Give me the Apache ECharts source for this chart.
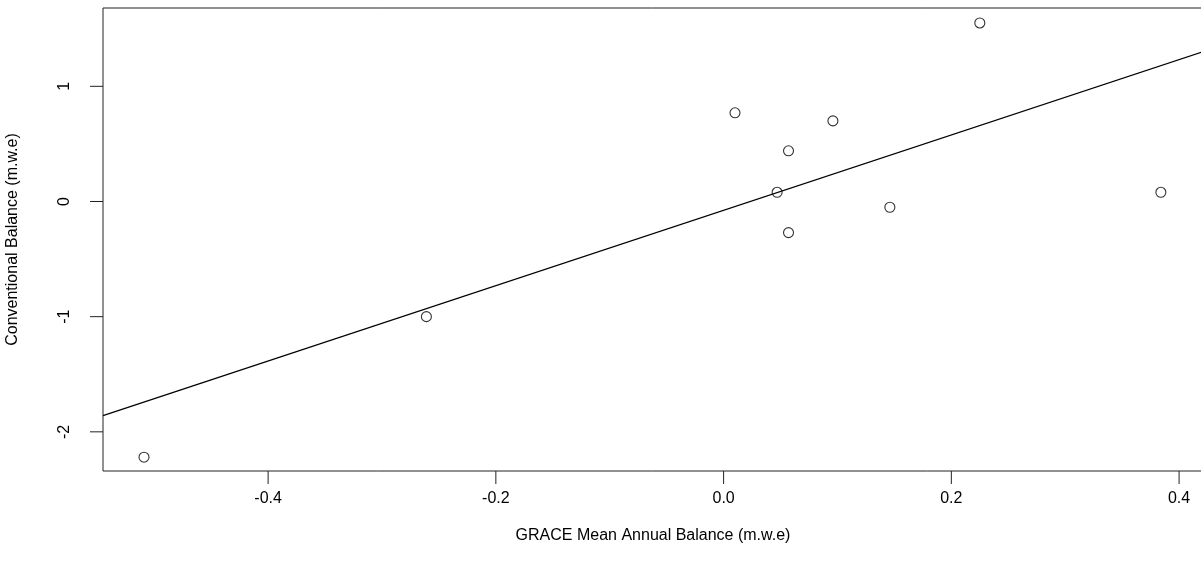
<!DOCTYPE html>
<html><head><meta charset="utf-8">
<script src="https://cdn.jsdelivr.net/npm/echarts@6/dist/echarts.min.js"></script>
<style>html,body{margin:0;padding:0;background:#fff}#c{width:1201px;height:571px}</style>
</head><body><div id="c"></div>
<script>
const xVals = [-0.509, -0.261, 0.01, 0.047, 0.057, 0.057, 0.096, 0.146, 0.225, 0.384];
const yVals = [-2.22, -1.00, 0.77, 0.08, 0.44, -0.27, 0.70, -0.05, 1.55, 0.08];
const fitIntercept = -0.077;
const fitSlope = 3.27;
const xTicks = [-0.4, -0.2, 0.0, 0.2, 0.4];
const yTicks = [-2, -1, 0, 1];
const xMin = -0.545, xMax = 0.421, yMin = -2.34, yMax = 1.68;

const pts = xVals.map((x, i) => [x, yVals[i]]);
const fit = [[xMin, fitIntercept + fitSlope * xMin], [xMax, fitIntercept + fitSlope * xMax]];
const tickData = xTicks.map(v => [v, yMin, 0]).concat(yTicks.map(v => [xMin, v, 1]));
const font = 'Liberation Sans, Arial, sans-serif';
const chart = echarts.init(document.getElementById('c'));
chart.setOption({
  animation: false,
  grid: {left: 103, right: -2, top: 8, bottom: 100, show: true, borderColor: '#222', borderWidth: 1,
    containLabel: false, outerBoundsMode: 'none'},
  xAxis: {
    type: 'value', min: xMin, max: xMax,
    name: 'GRACE Mean Annual Balance (m.w.e)', nameLocation: 'middle', nameGap: 57,
    nameTextStyle: {fontFamily: font, fontSize: 16, color: '#000'},
    axisLine: {show: false, onZero: false}, axisTick: {show: false},
    axisLabel: {customValues: xTicks, fontFamily: font, fontSize: 16, color: '#000', margin: 20,
      formatter: v => v.toFixed(1)},
    splitLine: {show: false}
  },
  yAxis: {
    type: 'value', min: yMin, max: yMax,
    name: 'Conventional Balance (m.w.e)', nameLocation: 'middle', nameGap: 82,
    nameTextStyle: {fontFamily: font, fontSize: 16, color: '#000'},
    axisLine: {show: false, onZero: false}, axisTick: {show: false},
    axisLabel: {customValues: yTicks, fontFamily: font, fontSize: 16, color: '#000', rotate: 90, margin: 30,
      formatter: v => String(v)},
    splitLine: {show: false}
  },
  series: [
    {type: 'line', data: fit, symbol: 'none', lineStyle: {color: '#000', width: 1.2}, clip: true, silent: true},
    {type: 'scatter', data: pts, symbol: 'circle', symbolSize: 10,
      itemStyle: {color: 'rgba(0,0,0,0)', borderColor: '#000', borderWidth: 1.1}},
    {type: 'custom', data: tickData, clip: false, silent: true,
      renderItem: (params, api) => {
        const p = api.coord([api.value(0), api.value(1)]);
        const vert = api.value(2) === 0;
        return {type: 'line', shape: vert ? {x1: p[0], y1: p[1], x2: p[0], y2: p[1] + 13}
                                           : {x1: p[0], y1: p[1], x2: p[0] - 13, y2: p[1]},
          style: {stroke: '#222', lineWidth: 1}};
      }}
  ]
});
</script></body></html>
